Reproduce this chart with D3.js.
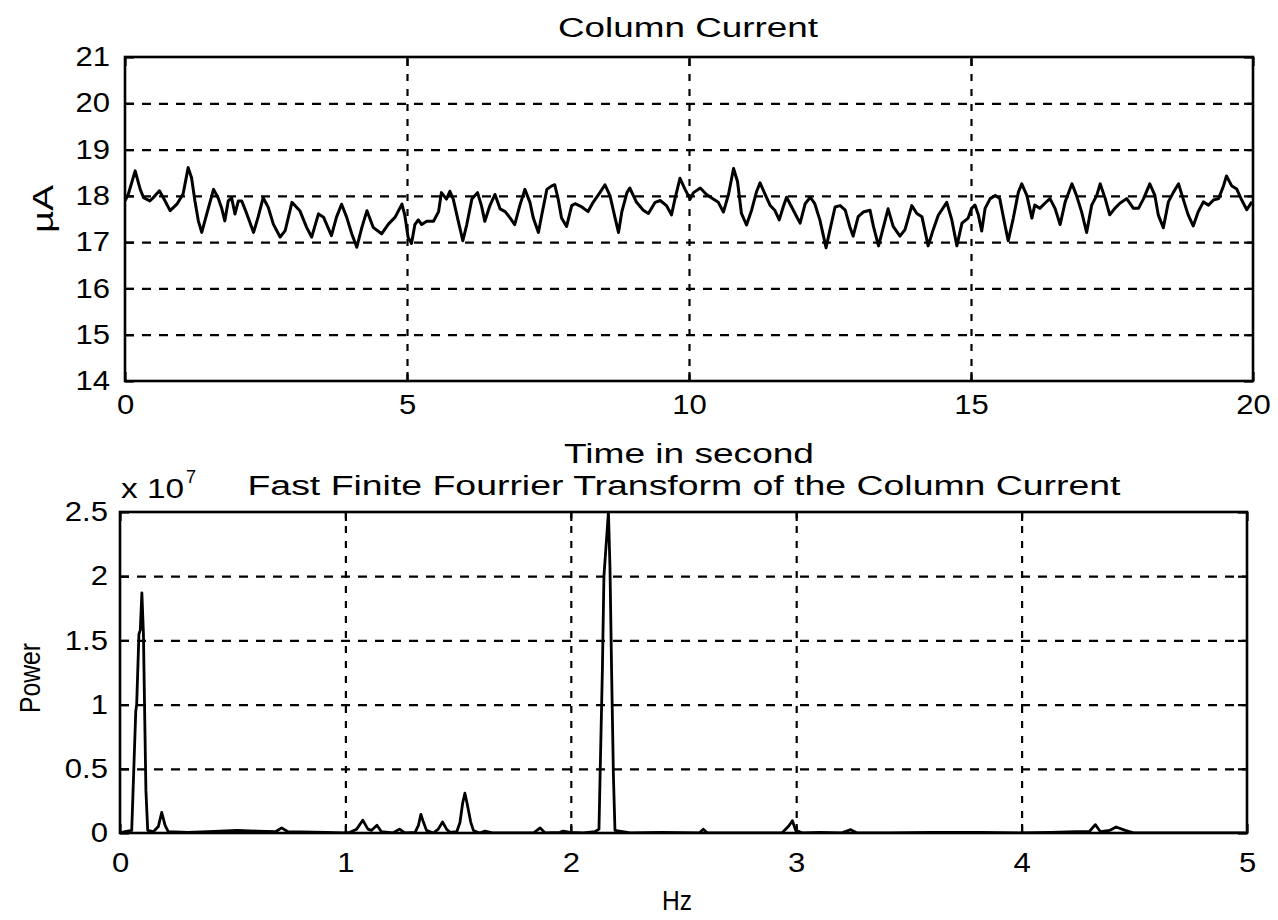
<!DOCTYPE html>
<html><head><meta charset="utf-8">
<script src="https://cdn.jsdelivr.net/npm/d3@7"></script>
<style>
body{margin:0;background:#fff;}
svg text{font-family:"Liberation Sans", Arial, Helvetica, sans-serif;fill:#000;}
</style></head><body>
<svg id="chart" width="1278" height="920"></svg>
<script>
// ---------- Data ----------
const timeSec = [
0.00,0.06,0.18,0.27,0.33,0.44,0.50,0.61,0.68,0.80,0.92,1.03,1.12,1.18,1.24,1.30,1.36,1.45,1.57,1.65,1.71,1.77,1.83,1.89,1.95,2.01,2.07,2.16,2.28,2.36,2.45,2.54,2.63,2.75,2.84,2.96,3.10,3.22,3.31,3.43,3.52,3.66,3.75,3.84,3.93,4.02,4.11,4.20,4.29,4.40,4.55,4.67,4.79,4.91,
4.96,5.02,5.08,5.14,5.20,5.26,5.35,5.47,5.56,5.61,5.70,5.76,5.82,5.91,5.99,6.06,6.15,6.25,6.32,6.38,6.47,6.56,6.65,6.74,6.83,6.91,7.00,7.09,7.18,7.24,7.33,7.39,7.48,7.56,7.62,7.68,7.74,7.83,7.92,7.98,8.10,8.21,8.30,8.42,8.51,8.60,8.69,8.75,8.81,8.90,8.95,9.07,9.19,9.28,9.40,9.49,9.60,9.69,9.75,9.84,9.93,10.02,
10.08,10.20,10.31,10.43,10.52,10.61,10.70,10.79,10.86,10.93,11.02,11.11,11.20,11.26,11.35,11.44,11.52,11.60,11.67,11.73,11.82,11.91,11.97,12.06,12.15,12.23,12.32,12.43,12.50,12.59,12.68,12.77,12.85,12.91,13.00,13.09,13.21,13.27,13.36,13.45,13.53,13.62,13.74,13.83,13.95,14.04,14.13,14.24,14.33,14.42,14.57,14.66,14.75,14.84,
14.95,15.01,15.07,15.13,15.19,15.25,15.34,15.43,15.51,15.60,15.66,15.75,15.84,15.90,15.99,16.08,16.13,16.22,16.31,16.40,16.49,16.58,16.67,16.79,16.87,16.96,17.05,17.14,17.23,17.29,17.38,17.46,17.55,17.64,17.76,17.88,17.97,18.06,18.17,18.26,18.32,18.41,18.50,18.59,18.68,18.76,18.85,18.94,19.03,19.12,19.21,19.30,19.39,19.47,19.53,19.62,19.71,19.80,19.89,19.98
];
const currentUA = [
17.89,18.04,18.54,18.14,17.96,17.89,17.96,18.11,17.96,17.68,17.82,18.04,18.61,18.39,17.89,17.46,17.21,17.61,18.14,17.96,17.75,17.46,17.89,17.96,17.61,17.89,17.89,17.61,17.21,17.54,17.96,17.75,17.39,17.11,17.25,17.86,17.68,17.32,17.11,17.61,17.54,17.14,17.54,17.82,17.54,17.18,16.89,17.32,17.68,17.32,17.18,17.39,17.54,17.82,
17.59,17.10,16.97,17.38,17.48,17.38,17.45,17.45,17.66,18.07,17.93,18.10,17.93,17.45,17.03,17.38,17.93,18.07,17.79,17.45,17.79,18.03,17.72,17.66,17.52,17.38,17.79,18.14,17.86,17.52,17.21,17.59,18.14,18.21,18.24,17.93,17.52,17.34,17.79,17.83,17.76,17.66,17.86,18.07,18.24,18.00,17.52,17.21,17.66,18.07,18.17,17.86,17.69,17.62,17.86,17.90,17.79,17.59,17.93,18.38,18.14,17.93,
18.07,18.17,18.03,17.93,17.86,17.65,18.03,18.59,18.31,17.62,17.37,17.69,18.10,18.28,18.03,17.79,17.69,17.48,17.76,17.97,17.76,17.55,17.41,17.83,17.97,17.83,17.48,16.88,17.27,17.76,17.79,17.69,17.34,17.13,17.55,17.65,17.69,17.34,16.92,17.34,17.72,17.34,17.13,17.27,17.79,17.62,17.55,16.92,17.27,17.58,17.86,17.48,16.92,17.41,
17.52,17.73,17.80,17.59,17.24,17.73,17.94,18.01,17.94,17.38,17.03,17.52,18.08,18.26,18.01,17.52,17.80,17.73,17.84,17.94,17.73,17.38,17.87,18.26,18.01,17.66,17.21,17.80,18.01,18.26,17.94,17.59,17.73,17.84,17.94,17.73,17.73,17.94,18.26,18.01,17.59,17.31,17.87,18.08,18.26,17.94,17.59,17.35,17.66,17.87,17.80,17.91,17.94,18.19,18.43,18.22,18.15,17.91,17.70,17.87
];
const freqHz = [
0.000,0.022,0.052,0.058,0.070,0.074,0.084,0.090,0.097,0.104,0.109,0.115,0.123,0.148,0.170,0.185,0.200,0.214,0.300,0.390,0.520,0.610,0.690,0.717,0.745,0.916,0.990,
1.020,1.050,1.077,1.100,1.115,1.140,1.160,1.210,1.240,1.264,1.309,1.324,1.335,1.346,1.360,1.390,1.412,1.431,1.449,1.464,1.494,1.508,1.520,1.530,1.540,1.556,1.568,1.595,1.619,1.656,1.834,1.864,1.886,1.952,1.967,1.996,
2.056,2.107,2.125,2.130,2.140,2.147,2.167,2.174,2.181,2.189,2.196,2.263,2.400,2.570,2.588,2.606,2.750,2.937,2.968,2.983,2.998,
3.030,3.105,3.200,3.242,3.270,3.410,3.600,3.823,3.991,4.130,4.240,4.300,4.327,4.350,4.390,4.419,4.460,4.500,5.000
];
const powerE7 = [
0.00,0.01,0.02,0.33,0.95,1.00,1.55,1.58,1.87,1.55,0.98,0.33,0.02,0.01,0.05,0.16,0.06,0.01,0.005,0.01,0.02,0.015,0.01,0.04,0.01,0.005,0.00,
0.005,0.03,0.10,0.03,0.02,0.06,0.01,0.00,0.03,0.00,0.005,0.06,0.145,0.085,0.02,0.00,0.03,0.086,0.03,0.005,0.01,0.08,0.23,0.31,0.23,0.085,0.02,0.00,0.015,0.00,0.00,0.04,0.00,0.005,0.015,0.005,
0.00,0.01,0.03,0.45,1.26,2.00,2.50,2.05,1.26,0.45,0.02,0.00,0.005,0.00,0.03,0.00,0.00,0.00,0.057,0.096,0.02,
0.00,0.005,0.00,0.026,0.00,0.00,0.005,0.005,0.00,0.005,0.01,0.01,0.065,0.01,0.02,0.047,0.02,0.00,0.00
];
const topXTicks = [0,5,10,15,20];
const topYTicks = [14,15,16,17,18,19,20,21];
const botXTicks = [0,1,2,3,4,5];
const botYTicks = [0,0.5,1,1.5,2,2.5];

// ---------- Layout ----------
const svg = d3.select("#chart");
const FS = 27, SX = 1.15;
const TOP = {left:125,right:1253,top:57,bottom:381};
const BOT = {left:120,right:1247,top:512,bottom:833};

function panel(id, box, xT, yT, xs, ys, xPad, yPad, lw) {
  const x = d3.scaleLinear().domain(d3.extent(xT)).range([box.left, box.right]);
  const y = d3.scaleLinear().domain(d3.extent(yT)).range([box.bottom, box.top]);
  const g = svg.append("g");
  const W = box.right - box.left, H = box.bottom - box.top;
  const xIn = xT.slice(1, -1), yIn = yT.slice(1, -1);
  // dashed grid
  g.append("g").attr("transform", `translate(0,${box.bottom})`)
    .call(d3.axisBottom(x).tickValues(xIn).tickSize(-H).tickFormat(""))
    .call(a => a.select(".domain").remove())
    .selectAll("line").attr("stroke", "#000").attr("stroke-width", 2.2).attr("stroke-dasharray", "7,8");
  g.append("g").attr("transform", `translate(${box.left},0)`)
    .call(d3.axisLeft(y).tickValues(yIn).tickSize(-W).tickFormat(""))
    .call(a => a.select(".domain").remove())
    .selectAll("line").attr("stroke", "#000").attr("stroke-width", 2.2).attr("stroke-dasharray", "9,8");
  // inner ticks on all sides
  const tl = 9;
  [[d3.axisBottom(x).tickValues(xT).tickSize(-tl), `translate(0,${box.bottom})`],
   [d3.axisTop(x).tickValues(xT).tickSize(-tl), `translate(0,${box.top})`],
   [d3.axisLeft(y).tickValues(yT).tickSize(-tl), `translate(${box.left},0)`],
   [d3.axisRight(y).tickValues(yT).tickSize(-tl), `translate(${box.right},0)`]].forEach(([ax, tr]) => {
    g.append("g").attr("transform", tr).call(ax.tickFormat(""))
      .call(a => a.select(".domain").remove())
      .selectAll("line").attr("stroke", "#000").attr("stroke-width", 2.2);
  });
  // data line
  g.append("clipPath").attr("id", id).append("rect")
    .attr("x", box.left).attr("y", box.top).attr("width", W).attr("height", H);
  const pts = xs.map((v, i) => [v, ys[i]]);
  g.append("path").datum(pts).attr("clip-path", `url(#${id})`)
    .attr("fill", "none").attr("stroke", "#000").attr("stroke-width", lw)
    .attr("stroke-linejoin", "round")
    .attr("d", d3.line().x(d => x(d[0])).y(d => y(d[1])));
  // border
  g.append("rect").attr("x", box.left).attr("y", box.top).attr("width", W).attr("height", H)
    .attr("fill", "none").attr("stroke", "#000").attr("stroke-width", 2.6);
  // tick labels
  const xa = g.append("g").attr("transform", `translate(0,${box.bottom})`)
    .call(d3.axisBottom(x).tickValues(xT).tickSize(0).tickPadding(xPad).tickFormat(d => String(d)));
  const ya = g.append("g").attr("transform", `translate(${box.left},0)`)
    .call(d3.axisLeft(y).tickValues(yT).tickSize(0).tickPadding(yPad).tickFormat(d => String(d)));
  [xa, ya].forEach(a => {
    a.select(".domain").remove();
    a.selectAll("text").attr("font-size", FS).attr("fill", "#000")
      .attr("font-family", '"Liberation Sans", Arial, sans-serif')
      .attr("transform", `scale(${SX},1)`);
  });
  return {x, y};
}

panel("clipTop", TOP, topXTicks, topYTicks, timeSec, currentUA, 14, 13, 3);
panel("clipBot", BOT, botXTicks, botYTicks, freqHz, powerE7, 20, 10.5, 2.8);

// ---------- Texts ----------
function label(txt, x, y, len, opts = {}) {
  const t = svg.append("text").attr("x", x).attr("y", y)
    .attr("text-anchor", "middle").attr("font-size", opts.fs || FS).text(txt);
  if (len) t.attr("textLength", len).attr("lengthAdjust", "spacingAndGlyphs");
  if (opts.rot) t.attr("transform", `rotate(-90,${x},${y})`);
  return t;
}
label("Column Current", 688, 37, 260);
label("Time in second", 689, 463, 250);
label("Fast Finite Fourrier Transform of the Column Current", 684, 495, 873);
label("Hz", 677, 910, 30);
label("µA", 53, 209, 48, {rot: true, fs: 30});
label("Power", 40, 678, 70, {rot: true, fs: 30});
const ex = svg.append("text").attr("x", 121).attr("y", 498).attr("font-size", FS);
ex.append("tspan").text("x 10").attr("textLength", 63).attr("lengthAdjust", "spacingAndGlyphs");
ex.append("tspan").attr("font-size", 18).attr("dy", -15).attr("dx", 2).text("7");
</script>
</body></html>
